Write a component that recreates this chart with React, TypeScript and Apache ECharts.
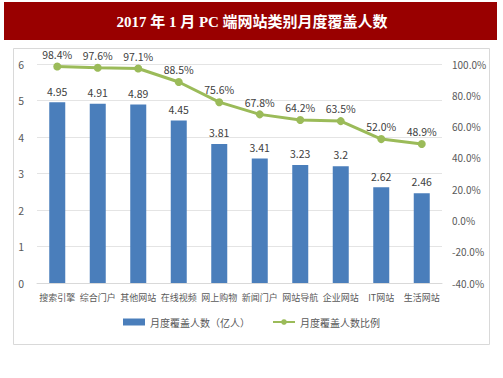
import React, { useEffect, useRef } from "react";
import * as echarts from "echarts";

const titleText = "2017 年 1 月 PC 端网站类别月度覆盖人数";
const categories = ["搜索引擎", "综合门户", "其他网站", "在线视频", "网上购物", "新闻门户", "网站导航", "企业网站", "IT网站", "生活网站"];
const barName = "月度覆盖人数（亿人）";
const lineName = "月度覆盖人数比例";
const barValues = [4.95, 4.91, 4.89, 4.45, 3.81, 3.41, 3.23, 3.2, 2.62, 2.46];
const lineValues = [98.4, 97.6, 97.1, 88.5, 75.6, 67.8, 64.2, 63.5, 52.0, 48.9];

const FONT = "'Noto Sans CJK SC', 'Noto Sans', sans-serif";

export default function App() {
  const ref = useRef<HTMLDivElement>(null);
  useEffect(() => {
    const chart = echarts.init(ref.current!, null, { renderer: "svg" });
    chart.setOption({
      animation: false,
      backgroundColor: "#ffffff",
      textStyle: { fontFamily: FONT },
      graphic: [
        { type: "rect", shape: { x: 4, y: 2, width: 493, height: 38 }, style: { fill: "#990000" }, z: -1 },
        {
          type: "text",
          x: 252,
          y: 22,
          style: {
            text: titleText,
            fill: "#ffffff",
            font: "bold 15px 'Liberation Serif', 'Noto Sans CJK SC', serif",
            textAlign: "center",
            textVerticalAlign: "middle",
          },
        },
        { type: "rect", shape: { x: 13.5, y: 48.5, width: 476, height: 296 }, style: { fill: "none", stroke: "#d9d9d9", lineWidth: 1 }, z: -1 },
      ],
      grid: { left: 37, right: 61, top: 64, bottom: 95, containLabel: false },
      legend: {
        bottom: 46,
        left: "center",
        itemGap: 22,
        itemWidth: 22,
        itemHeight: 7,
        textStyle: { color: "#595959", fontSize: 10, fontFamily: FONT },
        data: [
          { name: barName, icon: "rect" },
          { name: lineName },
        ],
      },
      xAxis: {
        type: "category",
        data: categories,
        axisLine: { lineStyle: { color: "#d9d9d9" } },
        axisTick: { show: false },
        axisLabel: { color: "#595959", fontSize: 9, margin: 10, interval: 0 },
      },
      yAxis: [
        {
          type: "value",
          min: 0,
          max: 6,
          interval: 1,
          axisLine: { show: false },
          axisTick: { show: false },
          axisLabel: { color: "#595959", fontSize: 10.5, margin: 13 },
          splitLine: { lineStyle: { color: "#e4e4e4" } },
        },
        {
          type: "value",
          min: -40,
          max: 100,
          interval: 20,
          axisLine: { show: false },
          axisTick: { show: false },
          axisLabel: { color: "#595959", fontSize: 10, margin: 10, formatter: (v: number) => v.toFixed(1) + "%" },
          splitLine: { show: false },
        },
      ],
      series: [
        {
          name: barName,
          type: "bar",
          data: barValues,
          barWidth: 16,
          itemStyle: { color: "#4a7ebb" },
          label: { show: true, position: "top", distance: 6, color: "#404040", fontSize: 10.5 },
        },
        {
          name: lineName,
          type: "line",
          yAxisIndex: 1,
          data: lineValues,
          symbol: "circle",
          symbolSize: 8,
          lineStyle: { color: "#9bbb59", width: 3 },
          itemStyle: { color: "#9bbb59" },
          label: { show: true, position: "top", distance: 3, color: "#404040", fontSize: 10.5, formatter: (p: any) => p.value.toFixed(1) + "%" },
        },
      ],
    });
    return () => chart.dispose();
  }, []);
  return <div ref={ref} style={{ position: "absolute", left: 0, top: 0, width: 503, height: 378 }} />;
}
